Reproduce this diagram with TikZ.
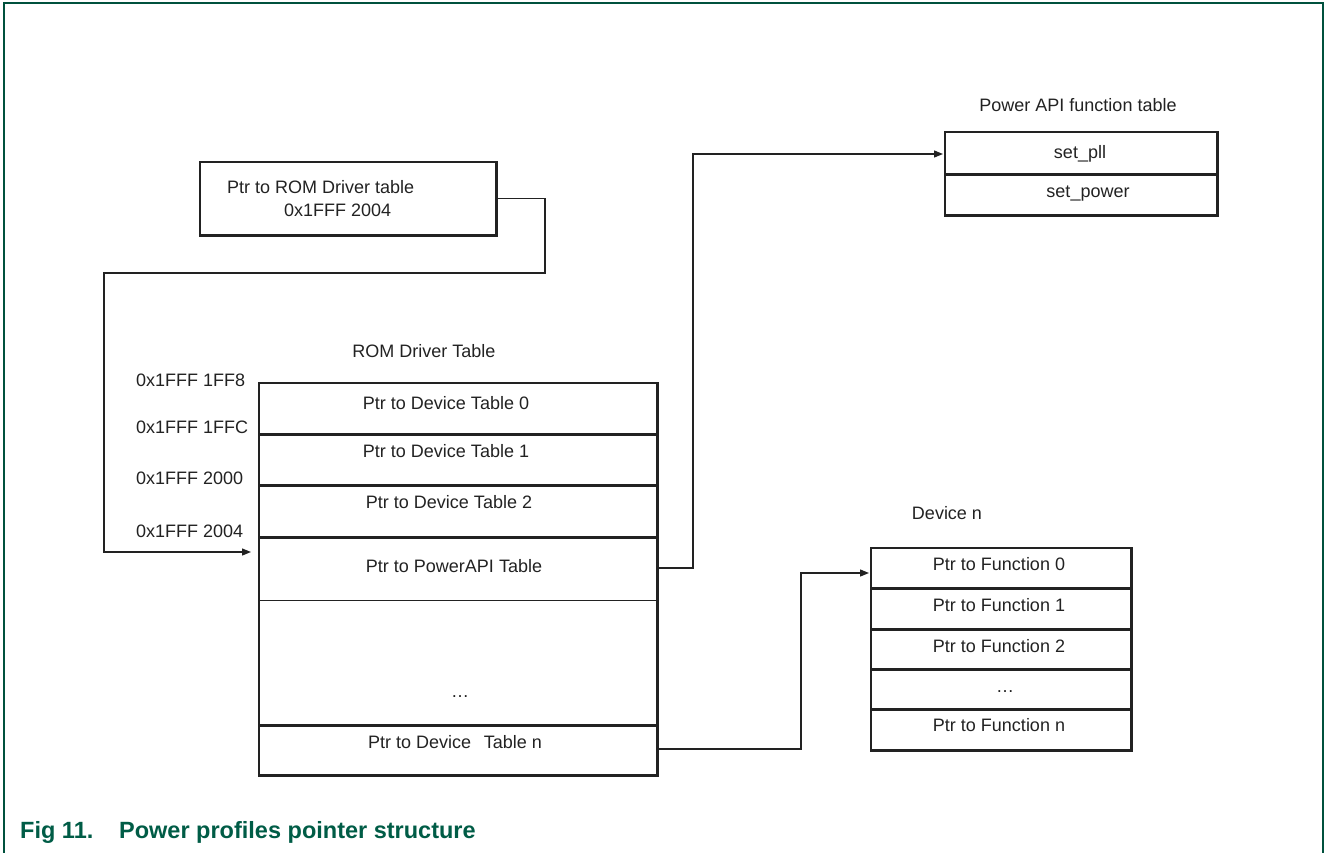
\documentclass[tikz,border=0pt]{standalone}
\usepackage{fontspec}
\setmainfont{Liberation Sans}
\usetikzlibrary{arrows.meta}
\definecolor{framegreen}{HTML}{00513D}
\definecolor{capgreen}{HTML}{005C46}
\definecolor{ink}{HTML}{222222}
\begin{document}
\begin{tikzpicture}[x=1pt,y=-1pt,
  txt/.style={font=\fontsize{18}{20}\selectfont, text=ink, inner sep=0pt, anchor=base},
  cell/.style={rectangle, draw=none, inner sep=0pt, anchor=north west, minimum width=#1},
  boxline/.style={draw=ink, line width=2.4pt},
  thinline/.style={draw=ink, line width=1.2pt},
  conn/.style={draw=ink, line width=1.3pt},
  arr/.style={conn, -{Triangle[length=9pt,width=7pt]}},
]
\useasboundingbox (0,0) rectangle (1325,852);
% frame
\draw[framegreen, line width=2pt] (4,860) -- (4,2.5) -- (1322.5,2.5) -- (1322.5,860);

% ---- Ptr to ROM driver table box
\node[cell=296pt, minimum height=73pt] (rombox) at (200,162) {};
\draw[boxline] (rombox.north west) rectangle (rombox.south east);
\node[txt, anchor=base west] (romtxt1) at (227,193) {Ptr to ROM Driver table};
\node[txt, anchor=base west] (romtxt2) at (284,216) {0x1FFF 2004};

% ---- ROM driver table
\node[txt] (romtitle) at (424,357) {ROM Driver Table};
\node[cell=398pt, minimum height=51pt] (r0) at (259,383) {};
\node[cell=398pt, minimum height=51pt] (r1) at (259,434) {};
\node[cell=398pt, minimum height=52pt] (r2) at (259,485) {};
\node[cell=398pt, minimum height=63pt] (r3) at (259,537) {};
\node[cell=398pt, minimum height=125pt] (r4) at (259,600) {};
\node[cell=398pt, minimum height=50pt] (r5) at (259,725) {};
\draw[boxline] (r0.north west) rectangle (r5.south east);
\draw[boxline] (r0.south west) -- (r0.south east);
\draw[boxline] (r1.south west) -- (r1.south east);
\draw[boxline] (r2.south west) -- (r2.south east);
\draw[boxline] (r4.south west) -- (r4.south east);
\draw[thinline] (r3.south west) -- (r3.south east);
\node[txt] (t0) at (446,409) {Ptr to Device Table 0};
\node[txt] (t1) at (446,457) {Ptr to Device Table 1};
\node[txt] (t2) at (449,508) {Ptr to Device Table 2};
\node[txt] (t3) at (454,572) {Ptr to PowerAPI Table};
\node[txt] (t4) at (460,697) {…};
\node[txt] (t5) at (455,748) {Ptr to Device\hspace{0.7em}Table n};

% addresses
\node[txt, anchor=base west] (a0) at (136,386) {0x1FFF 1FF8};
\node[txt, anchor=base west] (a1) at (136,433) {0x1FFF 1FFC};
\node[txt, anchor=base west] (a2) at (136,484) {0x1FFF 2000};
\node[txt, anchor=base west] (a3) at (136,537) {0x1FFF 2004};

% ---- Power API function table
\node[txt] (ptitle) at (1078,111) {Power API function table};
\node[cell=272pt, minimum height=42pt] (p0) at (945,132) {};
\node[cell=272pt, minimum height=41pt] (p1) at (945,174) {};
\draw[boxline] (p0.north west) rectangle (p1.south east);
\draw[boxline] (p0.south west) -- (p0.south east);
\node[txt] (pt0) at (1080,158) {set\_pll};
\node[txt] (pt1) at (1088,197) {set\_power};

% ---- Device n
\node[txt] (dtitle) at (947,519) {Device n};
\node[cell=260pt, minimum height=40pt] (d0) at (871,548) {};
\node[cell=260pt, minimum height=41pt] (d1) at (871,588) {};
\node[cell=260pt, minimum height=40pt] (d2) at (871,629) {};
\node[cell=260pt, minimum height=40pt] (d3) at (871,669) {};
\node[cell=260pt, minimum height=41pt] (d4) at (871,709) {};
\draw[boxline] (d0.north west) rectangle (d4.south east);
\foreach \n in {d0,d1,d2,d3}{\draw[boxline] (\n.south west) -- (\n.south east);}
\node[txt] (dt0) at (999,570) {Ptr to Function 0};
\node[txt] (dt1) at (999,611) {Ptr to Function 1};
\node[txt] (dt2) at (999,652) {Ptr to Function 2};
\node[txt] (dt3) at (1005,692) {…};
\node[txt] (dt4) at (999,731) {Ptr to Function n};

% ---- connectors
\coordinate (c1a) at (545,273);
\coordinate (c1b) at (104,552);
\coordinate (c1end) at (251,552);
\draw[arr] (rombox.east) -| (c1a) -| (c1b) -- (c1end);

\coordinate (c2s) at (657,568);
\coordinate (c2a) at (693,154);
\coordinate (c2end) at (943,154);
\draw[arr] (c2s) -| (c2a) -- (c2end);

\coordinate (c3s) at (657,749);
\coordinate (c3a) at (801,573);
\coordinate (c3end) at (869,573);
\draw[arr] (c3s) -| (c3a) -- (c3end);

% caption
\node[font=\fontsize{23.5}{26}\selectfont\bfseries, text=capgreen, inner sep=0pt, anchor=base west] (cap) at (20,838) {Fig 11.\hspace{1.1em}Power profiles pointer structure};
\end{tikzpicture}
\end{document}
